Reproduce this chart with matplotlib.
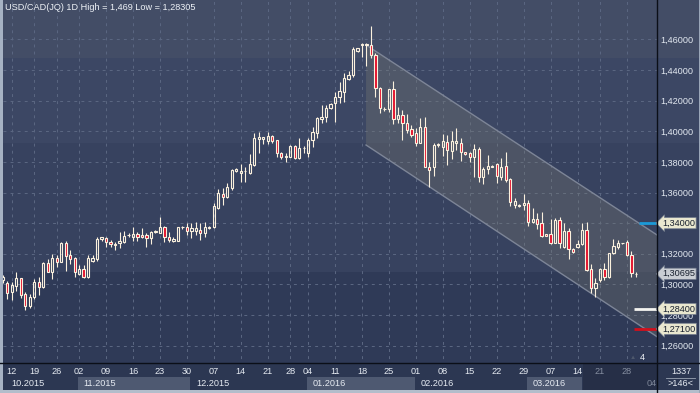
import numpy as np
import matplotlib
matplotlib.use('Agg')
import matplotlib.pyplot as plt
from matplotlib.patches import Rectangle, Polygon
from matplotlib.lines import Line2D
from matplotlib.transforms import blended_transform_factory

plt.rcParams['font.family'] = ['Liberation Sans', 'DejaVu Sans']

# USD/CAD daily bars (one entry per bar, left to right)
opens = [1.3029, 1.3011, 1.2949, 1.2992, 1.3040, 1.2938, 1.2859, 1.2916, 1.3014, 1.2981,
         1.3138, 1.3083, 1.3173, 1.3148, 1.3269, 1.3190, 1.3171, 1.3066, 1.3101, 1.3050,
         1.3155, 1.3164, 1.3295, 1.3303, 1.3279, 1.3264, 1.3269, 1.3279, 1.3320, 1.3312,
         1.3329, 1.3323, 1.3323, 1.3301, 1.3340, 1.3338, 1.3373, 1.3308, 1.3285, 1.3285,
         1.3373, 1.3373, 1.3351, 1.3351, 1.3355, 1.3338, 1.3366, 1.3373, 1.3500, 1.3590,
         1.3569, 1.3628, 1.3740, 1.3729, 1.3739, 1.3729, 1.3780, 1.3947, 1.3947, 1.3938,
         1.3969, 1.3943, 1.3856, 1.3830, 1.3834, 1.3904, 1.3823, 1.3889, 1.3860, 1.3943,
         1.3990, 1.4080, 1.4095, 1.4150, 1.4186, 1.4221, 1.4258, 1.4341, 1.4365, 1.4526,
         1.4566, 1.4565, 1.4563, 1.4498, 1.4280, 1.4146, 1.4143, 1.4274, 1.4080, 1.4106,
         1.4052, 1.4013, 1.3986, 1.3925, 1.4030, 1.3768, 1.3768, 1.3910, 1.3895, 1.3932,
         1.3873, 1.3921, 1.3921, 1.3862, 1.3856, 1.3834, 1.3882, 1.3703, 1.3751, 1.3769,
         1.3786, 1.3703, 1.3773, 1.3686, 1.3519, 1.3514, 1.3519, 1.3530, 1.3406, 1.3427,
         1.3399, 1.3327, 1.3327, 1.3272, 1.3421, 1.3246, 1.3349, 1.3231, 1.3242, 1.3264,
         1.3355, 1.3099, 1.2975, 1.3029, 1.3099, 1.3047, 1.3203, 1.3246, 1.3268, 1.3275,
         1.3192, 1.3070]
highs = [1.3062, 1.3022, 1.3018, 1.3079, 1.3042, 1.2953, 1.2938, 1.3035, 1.3047, 1.3148,
         1.3164, 1.3199, 1.3192, 1.3279, 1.3283, 1.3225, 1.3181, 1.3127, 1.3127, 1.3192,
         1.3192, 1.3312, 1.3312, 1.3312, 1.3290, 1.3279, 1.3344, 1.3349, 1.3334, 1.3377,
         1.3344, 1.3366, 1.3334, 1.3349, 1.3355, 1.3442, 1.3381, 1.3344, 1.3312, 1.3375,
         1.3381, 1.3399, 1.3399, 1.3406, 1.3399, 1.3409, 1.3381, 1.3530, 1.3623, 1.3628,
         1.3660, 1.3753, 1.3760, 1.3786, 1.3768, 1.3851, 1.3986, 1.3997, 1.3964, 1.3997,
         1.3975, 1.3945, 1.3866, 1.3856, 1.3910, 1.3910, 1.3954, 1.3904, 1.3954, 1.4026,
         1.4095, 1.4171, 1.4171, 1.4186, 1.4258, 1.4323, 1.4378, 1.4393, 1.4552, 1.4545,
         1.4574, 1.4574, 1.4690, 1.4509, 1.4291, 1.4160, 1.4276, 1.4328, 1.4156, 1.4139,
         1.4112, 1.4041, 1.4019, 1.4084, 1.4095, 1.3801, 1.3921, 1.3925, 1.3982, 1.3975,
         1.4001, 1.4019, 1.3954, 1.3866, 1.3866, 1.3915, 1.3899, 1.3768, 1.3845, 1.3778,
         1.3795, 1.3823, 1.3866, 1.3693, 1.3562, 1.3523, 1.3588, 1.3551, 1.3497, 1.3464,
         1.3471, 1.3329, 1.3425, 1.3432, 1.3442, 1.3403, 1.3366, 1.3240, 1.3290, 1.3403,
         1.3409, 1.3133, 1.3040, 1.3105, 1.3138, 1.3207, 1.3295, 1.3290, 1.3271, 1.3290,
         1.3220, 1.3083]
lows = [1.3009, 1.2903, 1.2898, 1.2959, 1.2910, 1.2831, 1.2848, 1.2907, 1.2931, 1.2975,
        1.3080, 1.3034, 1.3116, 1.3145, 1.3090, 1.3131, 1.3050, 1.3062, 1.3040, 1.3040,
        1.3148, 1.3155, 1.3285, 1.3242, 1.3246, 1.3225, 1.3236, 1.3269, 1.3312, 1.3285,
        1.3285, 1.3301, 1.3246, 1.3264, 1.3338, 1.3334, 1.3279, 1.3279, 1.3279, 1.3283,
        1.3364, 1.3323, 1.3305, 1.3323, 1.3290, 1.3312, 1.3362, 1.3366, 1.3492, 1.3519,
        1.3562, 1.3616, 1.3734, 1.3671, 1.3671, 1.3721, 1.3775, 1.3856, 1.3917, 1.3915,
        1.3921, 1.3830, 1.3817, 1.3801, 1.3830, 1.3817, 1.3817, 1.3860, 1.3834, 1.3899,
        1.3958, 1.4052, 1.4062, 1.4143, 1.4062, 1.4186, 1.4193, 1.4334, 1.4356, 1.4515,
        1.4486, 1.4428, 1.4476, 1.4225, 1.4117, 1.4134, 1.4127, 1.4047, 1.4052, 1.3943,
        1.3986, 1.3964, 1.3904, 1.3921, 1.3765, 1.3638, 1.3708, 1.3899, 1.3838, 1.3780,
        1.3817, 1.3877, 1.3808, 1.3845, 1.3801, 1.3703, 1.3671, 1.3654, 1.3721, 1.3765,
        1.3660, 1.3682, 1.3671, 1.3512, 1.3497, 1.3507, 1.3486, 1.3381, 1.3399, 1.3360,
        1.3312, 1.3314, 1.3264, 1.3269, 1.3236, 1.3236, 1.3164, 1.3203, 1.3236, 1.3257,
        1.3090, 1.2942, 1.2920, 1.3018, 1.3029, 1.3040, 1.3199, 1.3231, 1.3266, 1.3186,
        1.3050, 1.3050]
closes = [1.3049, 1.2942, 1.2996, 1.3044, 1.2931, 1.2861, 1.2916, 1.3014, 1.2981, 1.3138,
          1.3083, 1.3171, 1.3148, 1.3272, 1.3188, 1.3168, 1.3079, 1.3101, 1.3050, 1.3171,
          1.3171, 1.3295, 1.3308, 1.3275, 1.3264, 1.3259, 1.3283, 1.3316, 1.3322, 1.3329,
          1.3308, 1.3312, 1.3301, 1.3344, 1.3351, 1.3373, 1.3312, 1.3290, 1.3297, 1.3373,
          1.3374, 1.3351, 1.3370, 1.3370, 1.3338, 1.3377, 1.3377, 1.3512, 1.3595, 1.3569,
          1.3638, 1.3747, 1.3753, 1.3740, 1.3741, 1.3786, 1.3954, 1.3960, 1.3960, 1.3969,
          1.3938, 1.3856, 1.3834, 1.3838, 1.3904, 1.3823, 1.3889, 1.3892, 1.3943, 1.3993,
          1.4084, 1.4095, 1.4154, 1.4178, 1.4221, 1.4263, 1.4345, 1.4367, 1.4535, 1.4541,
          1.4568, 1.4567, 1.4498, 1.4280, 1.4150, 1.4144, 1.4274, 1.4078, 1.4106, 1.4052,
          1.4008, 1.3975, 1.3925, 1.4030, 1.3768, 1.3747, 1.3910, 1.3915, 1.3938, 1.3877,
          1.3936, 1.3936, 1.3862, 1.3849, 1.3834, 1.3882, 1.3703, 1.3753, 1.3773, 1.3773,
          1.3708, 1.3768, 1.3682, 1.3540, 1.3547, 1.3519, 1.3532, 1.3409, 1.3427, 1.3394,
          1.3318, 1.3318, 1.3272, 1.3421, 1.3272, 1.3349, 1.3229, 1.3210, 1.3264, 1.3355,
          1.3094, 1.2975, 1.3007, 1.3099, 1.3050, 1.3203, 1.3251, 1.3269, 1.3270, 1.3192,
          1.3073, 1.30695]

# axis labels
price_ticks = [1.26, 1.28, 1.30, 1.32, 1.34, 1.36, 1.38, 1.40, 1.42, 1.44, 1.46]
day_labels = ['12', '19', '26', '02', '09', '16', '23', '30', '07', '14', '21', '28', '04',
              '11', '18', '25', '01', '08', '15', '22', '29', '07', '14', '21', '28']
day_bars = [2, 7, 12, 17, 23, 29, 35, 41, 47, 53, 59, 64, 68, 74, 80, 86, 92, 98, 104,
            110, 116, 122, 128, 133, 139]
month_labels = ['10.2015', '11.2015', '12.2015', '01.2016', '02.2016', '03.2016']
month_first_bar = [1, 17, 42, 68, 92, 117]

# trend channel (bar, price)
channel_x = [80.9, 145.7]
channel_upper = [1.4563, 1.3323]
channel_lower = [1.3910, 1.2659]

# horizontal levels on the right
levels = [1.34, 1.284, 1.271]
level_colors = ['#1b9ad8', '#f4f4f0', '#d2101c']
level_start = [141.7, 140.6, 140.6]
tag_values = [1.34, 1.30695, 1.284, 1.271]
tag_colors = ['#e9e7cf', '#c9cdd3', '#e9e7cf', '#e9e7cf']

W, H = 700, 393
fig = plt.figure(figsize=(7, 3.93), dpi=100)


def fx(px):
    return px / W


def fy(py):
    return 1 - py / H


# stepped background
for y0, y1, c in [(0, 58, '#434d66'), (58, 143, '#3c4764'), (143, 272, '#37425f'),
                  (272, 363, '#2f3a57'), (363, 393, '#2c3752')]:
    fig.add_artist(Rectangle((0, fy(y1)), 1, (y1 - y0) / H, transform=fig.transFigure,
                             color=c, lw=0, zorder=-10))

ax = fig.add_axes([fx(3), fy(363), fx(657) - fx(3), fy(2) - fy(363)])
ax.patch.set_visible(False)
for s in ax.spines.values():
    s.set_visible(False)
ax.set_xlim(0.045, 145.7)
ax.set_ylim(1.24872, 1.48434)

ax.yaxis.tick_right()
ax.set_yticks(price_ticks)
# the 1,34000 level carries its own tag, so its plain label is left out
ax.set_yticklabels(['' if v in tag_values else f'{v:.5f}'.replace('.', ',')
                    for v in price_ticks])
ax.tick_params(axis='y', length=0, pad=2.2, labelsize=6.6, labelcolor='#e2e8f0')
ax.set_xticks([])

grid_style = dict(color='#5a6681', lw=0.75, linestyle=(0, (2.8, 4)))
ax.hlines(price_ticks, 0, 146, zorder=0.5, **grid_style)
ax.vlines(day_bars, 1.2, 1.5, zorder=0.5, **grid_style)

# channel
ax.add_patch(Polygon([(channel_x[0], channel_upper[0]), (channel_x[1], channel_upper[1]),
                      (channel_x[1], channel_lower[1]), (channel_x[0], channel_lower[0])],
                     closed=True, fc='#7c7c74', alpha=0.32, lw=0, zorder=1))
ax.plot(channel_x, channel_upper, color='#7d8597', lw=1, zorder=1.5)
ax.plot(channel_x, channel_lower, color='#7d8597', lw=1, zorder=1.5)

# candles
o = np.array(opens)
h = np.array(highs)
l = np.array(lows)
c = np.array(closes)
x = np.arange(len(o))
top = np.maximum(o, c)
bot = np.minimum(o, c)
wick = '#fbf1de'
ax.vlines(x, top, h, color=wick, lw=0.8, zorder=3)
ax.vlines(x, l, bot, color=wick, lw=0.8, zorder=3)
up = c >= o
ax.bar(x[up], (top - bot)[up], bottom=bot[up], width=0.5, facecolor='none',
       edgecolor=wick, lw=0.8, zorder=4)
ax.bar(x[~up], (top - bot)[~up], bottom=bot[~up], width=0.5, facecolor='#e3102c',
       edgecolor=wick, lw=0.8, zorder=4)

# level lines and price tags
for v, col, xs in zip(levels, level_colors, level_start):
    ax.hlines(v, xs, 145.7, color=col, lw=2, zorder=5)
tr = blended_transform_factory(ax.transAxes, ax.transData)
for v, fc in zip(tag_values, tag_colors):
    ax.text(1.0 + 5 / 654, v, f'{v:.5f}'.replace('.', ','), transform=tr, ha='left',
            va='center', fontsize=6.6, color='#18202e', clip_on=False, zorder=6,
            bbox=dict(boxstyle='larrow,pad=0.12', fc=fc, ec='#707a8c', lw=0.5))

# title
fig.text(fx(5), fy(7.5), 'USD/CAD(JQ) 1D High = 1,469 Low = 1,28305', fontsize=6.6,
         color='#eef2f7', va='center')

# x axis area
tx = blended_transform_factory(ax.transData, fig.transFigure)
month_end = month_first_bar[1:] + [129.2]
for i, (lab, b0, b1) in enumerate(zip(month_labels, month_first_bar, month_end)):
    if i % 2 == 1:
        fig.add_artist(Rectangle((b0 - 0.3, fy(389.5)), b1 - b0, (389.5 - 376.5) / H,
                                 transform=tx, fc='#4e5971', lw=0, zorder=-5))
    fig.text(b0 + 1, fy(383), lab, transform=tx, fontsize=6.6, color='#e6ebf2',
             ha='left', va='center')
fig.add_artist(Rectangle((129.2, fy(390)), 145.7 - 129.2, 27 / H, transform=tx,
                         fc='#262f47', lw=0, zorder=-4))
for lab, b in zip(day_labels, day_bars):
    dim = b > 129.2
    fig.text(b, fy(372), lab, transform=tx, fontsize=6.6, ha='center', va='center',
             color='#858ea0' if dim else '#e6ebf2')
fig.text(fx(652), fy(383), '04', fontsize=6.6, ha='center', va='center', color='#7d8698')

fig.text(fx(632.5), fy(357.5), '\u25b2', fontsize=4.5, ha='center', va='center',
         color='#4e586c')
fig.text(fx(642), fy(357.5), '4', fontsize=6.6, ha='center', va='center', color='#f0f3f7')

fig.text(fx(681), fy(371), '1337', fontsize=6.6, ha='center', va='center', color='#e6ebf2')
fig.add_artist(Line2D([fx(666), fx(695)], [fy(377.5), fy(377.5)], color='#9aa4b4', lw=0.6))
fig.text(fx(681), fy(384), '>146<', fontsize=6.6, ha='center', va='center', color='#e6ebf2')

# separators and frame
fig.add_artist(Line2D([fx(657), fx(657)], [0, 1], color='#0b0f18', lw=1))
fig.add_artist(Line2D([0, 1], [fy(363), fy(363)], color='#0b0f18', lw=1))
fig.add_artist(Rectangle((0, 0), fx(3), 1, transform=fig.transFigure, fc='#a6b2c3', lw=0))
fig.add_artist(Rectangle((0, 0), 1, 3 / H, transform=fig.transFigure, fc='#b3bdcb', lw=0))
fig.add_artist(Rectangle((fx(699), 0), fx(1), 1, transform=fig.transFigure, fc='#9aa6b8', lw=0))

fig.savefig('out.png', dpi=100)
